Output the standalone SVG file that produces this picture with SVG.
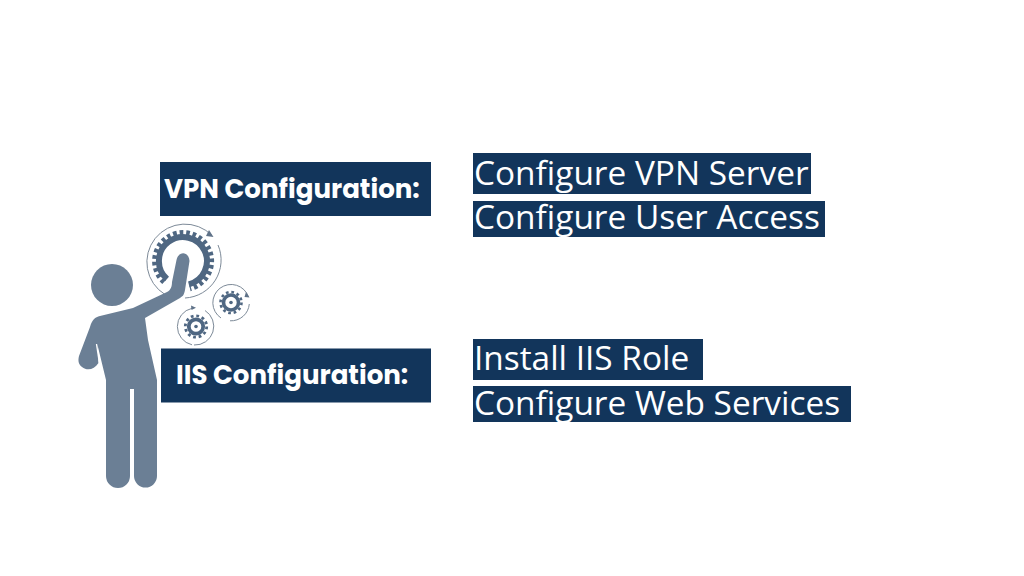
<svg xmlns="http://www.w3.org/2000/svg" width="1024" height="576" viewBox="0 0 1024 576">
<style>
.box{fill:#12355b}
.h{font-family:"Poppins","Inter","Liberation Sans",sans-serif;font-weight:700;font-size:26.100px;fill:#fff}
.t{font-family:"Open Sans","Noto Sans",sans-serif;font-size:33.400px;fill:#fff}
.fig{fill:#6b7f95}
.ring{fill:none;stroke:#7d8a98;stroke-width:1}
.arr{fill:#5f7288}
.g{fill:none;stroke:#4f6782}
</style>
<rect width="1024" height="576" fill="#fff"/>
<g id="node-vpn"><rect class="box" x="160" y="162" width="271" height="54"/><text class="h" x="164" y="198">VPN Configuration:</text></g>
<g id="node-iis"><rect class="box" x="161" y="348.500" width="270" height="54"/><text class="h" x="176" y="384">IIS Configuration:</text></g>
<g id="node-vpn-items">
<rect class="box" x="473" y="153" width="338" height="41"/><text class="t" x="474" y="184.500">Configure VPN Server</text>
<rect class="box" x="473" y="201" width="352" height="36"/><text class="t" x="474" y="229">Configure User Access</text>
</g>
<g id="node-iis-items">
<rect class="box" x="473" y="339" width="230" height="41"/><text class="t" x="474" y="370">Install IIS Role</text>
<rect class="box" x="473" y="386" width="378" height="36"/><text class="t" x="474" y="414.500">Configure Web Services</text>
</g>
<g id="node-gears">
<g id="gear-large">
<path class="g" stroke-width="6" d="M167 279A24 24 0 1 1 188.800 284.300"/>
<path class="g" stroke-width="5" stroke-dasharray="3.600 2.900" d="M164 282.200A28.500 28.500 0 1 1 190 288.700"/>
<path class="ring" d="M165 294.500A38 38 0 1 1 212 235.500"/>
<path class="ring" d="M218 245A38 38 0 0 1 185 298"/>
<polygon class="arr" points="209,230 213.500,237 206,236"/>
</g>
<g id="gear-right">
<circle class="g" cx="231" cy="302.500" r="7.500" stroke-width="3.600"/>
<circle class="g" cx="231" cy="302.500" r="10.500" stroke-width="2.600" stroke-dasharray="2.700 2.800"/>
<circle cx="231" cy="302.500" r="1.800" fill="#4f6782"/>
<path class="ring" d="M221 318A18.300 18.300 0 1 1 248.500 297"/>
<path class="ring" d="M249.300 304A18.300 18.300 0 0 1 230 320.800"/>
<polygon class="arr" points="246,292 249.500,297.500 244.500,297"/>
</g>
<g id="gear-lower">
<circle class="g" cx="196" cy="326.500" r="7.200" stroke-width="3.800"/>
<circle class="g" cx="196" cy="326.500" r="10.700" stroke-width="2.800" stroke-dasharray="2.800 2.800"/>
<circle cx="196" cy="326.500" r="1.800" fill="#4f6782"/>
<path class="ring" d="M192 344.800A18.700 18.700 0 0 1 192 308.300"/>
<path class="ring" d="M205 310.500A18.700 18.700 0 0 1 194 345"/>
<polygon class="arr" points="196,307.800 191,305.500 191.500,310"/>
</g>
</g>
<g id="node-person">
<circle class="fig" cx="112" cy="285" r="21"/>
<path class="fig" d="M176.500 260C178 251 189 251 189.500 261L185 290C184 295 183 296 180 298L145 318L148 340L157 380V476A11.500 11.500 0 0 1 134 476V389H130V476A11.500 11.500 0 0 1 106 476V380L97.500 345L98.500 363C94 370 87 371 82 367C78 364 78 360 79 356L90 327C92 320 95 317 100 316L133 308L167 292C171 290 172 286 172 282Z"/>
<path d="M96.500 344L99.500 364" stroke="#fff" stroke-width="1.300" fill="none"/>
</g>
</svg>
